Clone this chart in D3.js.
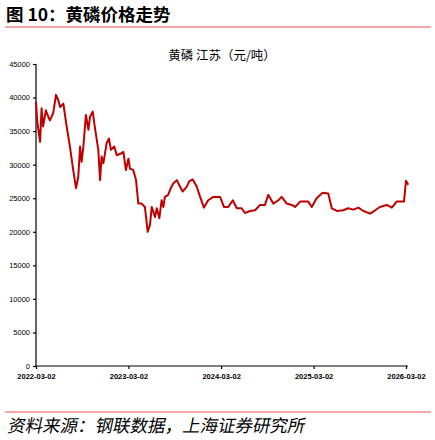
<!DOCTYPE html>
<html><head><meta charset="utf-8">
<script src="https://cdn.jsdelivr.net/npm/d3@7"></script>
<style>body{margin:0;background:#fff}svg{display:block}</style>
</head><body><svg id="c" width="435" height="440"></svg>
<script>
const dates=["2022-03-02","2022-03-07","2022-03-18","2022-03-24","2022-03-30","2022-04-10","2022-04-20","2022-04-26","2022-05-09","2022-05-20","2022-05-29","2022-06-05","2022-06-18","2022-07-01","2022-07-14","2022-07-27","2022-08-07","2022-08-16","2022-08-23","2022-08-29","2022-09-05","2022-09-15","2022-09-25","2022-10-01","2022-10-12","2022-10-21","2022-11-03","2022-11-10","2022-11-16","2022-11-23","2022-12-06","2022-12-15","2022-12-23","2023-01-05","2023-01-15","2023-02-03","2023-02-10","2023-02-20","2023-03-02","2023-03-08","2023-03-21","2023-04-01","2023-04-10","2023-04-23","2023-05-06","2023-05-17","2023-05-26","2023-06-02","2023-06-15","2023-06-22","2023-07-02","2023-07-11","2023-07-18","2023-07-24","2023-08-06","2023-08-16","2023-08-26","2023-09-09","2023-09-22","2023-10-02","2023-10-18","2023-10-28","2023-11-11","2023-11-27","2023-12-10","2023-12-25","2024-01-11","2024-01-31","2024-02-27","2024-03-13","2024-03-30","2024-04-17","2024-05-03","2024-05-22","2024-06-04","2024-06-24","2024-07-14","2024-08-03","2024-08-22","2024-09-04","2024-09-24","2024-10-14","2024-10-27","2024-11-16","2024-12-06","2024-12-19","2025-01-08","2025-02-09","2025-02-23","2025-03-14","2025-04-07","2025-04-29","2025-05-13","2025-06-02","2025-06-27","2025-07-17","2025-08-06","2025-08-26","2025-09-15","2025-10-11","2025-10-31","2025-11-19","2025-12-16","2026-01-05","2026-01-24","2026-02-22","2026-03-02","2026-03-11"];
const prices=[39400,36400,33400,38400,35700,38100,37100,36600,37700,40400,39600,38600,39100,35700,32700,29200,26500,28200,32700,30400,32700,37400,35200,37100,37900,35400,32200,27700,31200,30200,33200,33900,32200,32700,31400,31700,31900,29200,30900,29400,29200,27700,24200,24200,23700,20000,21000,23700,22200,23500,22000,24700,23700,25200,25500,26500,27200,27700,26700,26000,26700,27500,27800,26700,25200,23600,24700,25200,25200,23700,23700,24700,23500,23500,22800,23100,23200,24000,24000,25500,24200,24700,25200,24200,24000,23700,24500,24500,23700,25000,25800,25700,23500,23100,23200,23500,23300,23600,23100,22700,23200,23700,24000,23600,24500,24500,27600,27000];
const yTicks=[0,5000,10000,15000,20000,25000,30000,35000,40000,45000];
const xTickLabels=["2022-03-02","2023-03-02","2024-03-02","2025-03-02","2026-03-02"];

const svg=d3.select("#c");
const parse=d3.timeParse("%Y-%m-%d");
const data=dates.map((d,i)=>({d:parse(d),v:prices[i]}));
const x=d3.scaleTime().domain([parse("2022-03-02"),parse("2026-03-02")]).range([36,406]);
const y=d3.scaleLinear().domain([0,45000]).range([366,64]);

svg.append("text").attr("x",6).attr("y",21).attr("font-family","Noto Sans CJK SC").attr("font-weight","bold").attr("font-size",17.5).text("图 10：黄磷价格走势");
svg.append("line").attr("x1",5).attr("x2",431).attr("y1",27).attr("y2",27).attr("stroke","#f05050").attr("stroke-width",1);
svg.append("text").attr("x",222).attr("y",60).attr("text-anchor","middle").attr("font-family","Noto Sans CJK SC").attr("font-size",12.5).text("黄磷 江苏（元/吨）");

const ya=svg.append("g").attr("transform","translate(36,0)").call(d3.axisLeft(y).tickValues(yTicks).tickSize(3).tickSizeOuter(0).tickFormat(d3.format("d")));
const xa=svg.append("g").attr("transform","translate(0,366)").call(d3.axisBottom(x).tickValues(xTickLabels.map(parse)).tickSize(3).tickSizeOuter(0).tickFormat(d3.timeFormat("%Y-%m-%d")));
[ya,xa].forEach(g=>{g.selectAll("path,line").attr("stroke","#000").attr("stroke-width",1.2);g.selectAll("text").attr("font-family","Liberation Sans, Arial").attr("font-size",7.5).attr("fill","#000");});
xa.select("path").attr("d","M36,0H408");
xa.selectAll("text").attr("font-weight","bold").attr("dy","0.9em");
ya.select("path").attr("d","M0,366V64");

svg.append("path").datum(data).attr("fill","none").attr("stroke","#c00000").attr("stroke-width",2).attr("stroke-linejoin","round")
  .attr("d",d3.line().x(d=>x(d.d)).y(d=>y(d.v)));

svg.append("line").attr("x1",5).attr("x2",431).attr("y1",412).attr("y2",412).attr("stroke","#f05050").attr("stroke-width",1);
svg.append("text").attr("transform","translate(7,432) skewX(-12)").attr("font-family","Noto Sans CJK SC").attr("font-size",17.5).text("资料来源：钢联数据，上海证券研究所");
</script></body></html>
